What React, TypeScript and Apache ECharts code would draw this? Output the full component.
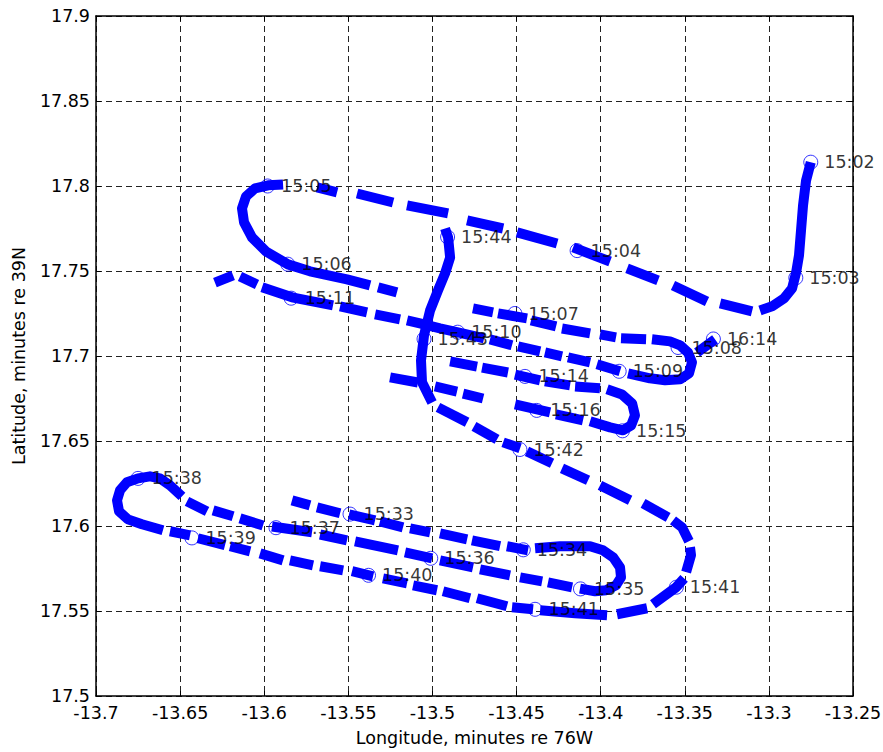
import React, { useEffect, useRef } from "react";
import * as echarts from "echarts";

type Pt = [number, number];

// Ship track, drawn as dashes (gaps in the data), longitude / latitude in minutes
const leg1: Pt[][] = [
  [[-13.2751, 17.814], [-13.2779, 17.8033], [-13.2797, 17.7886], [-13.2809, 17.7739], [-13.2821, 17.7592], [-13.2838, 17.7492], [-13.2862, 17.7398], [-13.291, 17.7339], [-13.2981, 17.7292], [-13.3053, 17.7268]],
  [[-13.31, 17.7262], [-13.329, 17.7309]],
  [[-13.3368, 17.7321], [-13.357, 17.7415]],
  [[-13.3659, 17.7445], [-13.3843, 17.7515]],
  [[-13.3944, 17.7556], [-13.4164, 17.7639]],
  [[-13.4259, 17.7662], [-13.4497, 17.7727]],
  [[-13.458, 17.775], [-13.4794, 17.7798]],
  [[-13.4907, 17.7839], [-13.5151, 17.7886]],
  [[-13.5234, 17.7903], [-13.5448, 17.7956]],
  [[-13.5567, 17.7962], [-13.5686, 17.7992]],
  [[-13.5888, 17.8009], [-13.5977, 17.8004], [-13.6055, 17.7986], [-13.6108, 17.7939], [-13.6132, 17.7868], [-13.612, 17.7786], [-13.6073, 17.7698], [-13.5989, 17.7615], [-13.5859, 17.7539], [-13.5728, 17.7498], [-13.5508, 17.7451], [-13.5371, 17.7415]],
  [[-13.5323, 17.7404], [-13.5211, 17.7374]],
];

const leg2: Pt[][] = [
  [[-13.4759, 17.728], [-13.464, 17.7257]],
  [[-13.461, 17.7251], [-13.4438, 17.7221]],
  [[-13.4414, 17.721], [-13.4265, 17.7174]],
  [[-13.423, 17.7162], [-13.4063, 17.7133]],
  [[-13.4004, 17.7127], [-13.3909, 17.711]],
  [[-13.3879, 17.7104], [-13.373, 17.7098]],
  [[-13.3695, 17.7098], [-13.3588, 17.7086], [-13.3528, 17.7063], [-13.3481, 17.7021], [-13.3457, 17.6963], [-13.3475, 17.6898], [-13.3528, 17.6863], [-13.3617, 17.6857], [-13.3707, 17.6869], [-13.3837, 17.6898]],
  [[-13.3885, 17.691], [-13.4022, 17.6951]],
  [[-13.4063, 17.6963], [-13.4194, 17.6992]],
  [[-13.423, 17.6998], [-13.4331, 17.7021]],
  [[-13.436, 17.7027], [-13.4491, 17.7057]],
  [[-13.4527, 17.7063], [-13.4658, 17.7098]],
  [[-13.4693, 17.7104], [-13.4848, 17.7139], [-13.4955, 17.7162], [-13.5074, 17.7192], [-13.5151, 17.721]],
  [[-13.5193, 17.7215], [-13.5341, 17.7245]],
  [[-13.5389, 17.7257], [-13.5549, 17.7292]],
  [[-13.5591, 17.7298], [-13.5835, 17.7345], [-13.6013, 17.7404]],
  [[-13.6043, 17.7421], [-13.6144, 17.7468]],
  [[-13.6185, 17.7474], [-13.6293, 17.7432]],
];

const leg3: Pt[][] = [
  [[-13.4895, 17.6968], [-13.4735, 17.6938]],
  [[-13.4705, 17.6932], [-13.4551, 17.6903]],
  [[-13.4509, 17.6891], [-13.436, 17.6856]],
  [[-13.4331, 17.6851], [-13.4182, 17.6827]],
  [[-13.4152, 17.6821], [-13.4004, 17.681]],
  [[-13.3962, 17.6804], [-13.3873, 17.6774], [-13.3813, 17.6721], [-13.3796, 17.6651], [-13.3819, 17.6592], [-13.3867, 17.6563], [-13.3944, 17.658], [-13.4063, 17.6616]],
  [[-13.4105, 17.6622], [-13.4265, 17.6657]],
  [[-13.4301, 17.6668], [-13.4509, 17.6715]],
  [[-13.4699, 17.675], [-13.4818, 17.6779]],
  [[-13.4854, 17.6791], [-13.4985, 17.6821]],
  [[-13.5086, 17.6844], [-13.5252, 17.6874]],
];

const leg4: Pt[][] = [
  [[-13.5835, 17.6151], [-13.5728, 17.6121]],
  [[-13.5686, 17.611], [-13.5549, 17.6075]],
  [[-13.5496, 17.6069], [-13.5341, 17.6033]],
  [[-13.5312, 17.6027], [-13.5175, 17.5992]],
  [[-13.5133, 17.5986], [-13.5014, 17.5963]],
  [[-13.4955, 17.5957], [-13.4794, 17.5922]],
  [[-13.4765, 17.5916], [-13.4598, 17.5881]],
  [[-13.4557, 17.5881], [-13.4432, 17.5857]],
  [[-13.439, 17.5869], [-13.4242, 17.5881], [-13.4063, 17.5881], [-13.3986, 17.5857], [-13.3926, 17.5816], [-13.3885, 17.5757], [-13.3879, 17.5698], [-13.3909, 17.5651], [-13.3968, 17.5622], [-13.4033, 17.5616], [-13.4123, 17.5632]],
  [[-13.417, 17.5639], [-13.4313, 17.5668]],
  [[-13.4348, 17.5674], [-13.4479, 17.5698]],
  [[-13.4539, 17.5709], [-13.4717, 17.5745]],
  [[-13.4759, 17.5757], [-13.4955, 17.5798]],
  [[-13.5002, 17.581], [-13.5163, 17.5845]],
  [[-13.5205, 17.5857], [-13.546, 17.591]],
  [[-13.5508, 17.5916], [-13.5668, 17.595]],
  [[-13.5716, 17.5963], [-13.5954, 17.5997]],
  [[-13.6007, 17.6003], [-13.6144, 17.6045]],
  [[-13.6185, 17.6057], [-13.6304, 17.6092]],
  [[-13.634, 17.6086], [-13.6459, 17.6145]],
  [[-13.6489, 17.6174], [-13.656, 17.6239], [-13.662, 17.628], [-13.6679, 17.6292], [-13.675, 17.628], [-13.6816, 17.6257], [-13.6857, 17.621], [-13.6875, 17.6151], [-13.6863, 17.6086], [-13.681, 17.6039], [-13.6727, 17.601], [-13.6602, 17.5975]],
  [[-13.656, 17.5969], [-13.6441, 17.5945]],
  [[-13.6394, 17.5928], [-13.6233, 17.5887]],
  [[-13.6203, 17.5881], [-13.6084, 17.5851]],
  [[-13.6025, 17.5839], [-13.5888, 17.5798]],
  [[-13.5847, 17.5798], [-13.571, 17.5769]],
  [[-13.5668, 17.5763], [-13.5531, 17.5739]],
  [[-13.5478, 17.5734], [-13.5353, 17.5704]],
  [[-13.5294, 17.5692], [-13.5151, 17.5663]],
  [[-13.5115, 17.5651], [-13.4973, 17.5622]],
  [[-13.4937, 17.5616], [-13.4777, 17.5575]],
  [[-13.4735, 17.5575], [-13.4557, 17.5528]],
  [[-13.4527, 17.5522], [-13.4402, 17.551]],
  [[-13.436, 17.5504], [-13.4152, 17.5487], [-13.3962, 17.5475]],
  [[-13.3903, 17.5481], [-13.3724, 17.5516]],
  [[-13.3689, 17.554], [-13.3552, 17.5639], [-13.3504, 17.5692]],
  [[-13.3492, 17.5728], [-13.3463, 17.5828], [-13.3469, 17.5875]],
  [[-13.3475, 17.591], [-13.3516, 17.5992], [-13.357, 17.6033]],
  [[-13.3599, 17.6051], [-13.3748, 17.6133]],
  [[-13.3825, 17.6151], [-13.4004, 17.6239]],
  [[-13.4075, 17.6269], [-13.423, 17.6339]],
  [[-13.4289, 17.6369], [-13.4438, 17.6439]],
  [[-13.4479, 17.6457], [-13.458, 17.6492]],
  [[-13.4616, 17.651], [-13.4753, 17.6586]],
  [[-13.4794, 17.661], [-13.4967, 17.6698]],
  [[-13.5002, 17.6727], [-13.5062, 17.6845], [-13.5068, 17.6974], [-13.505, 17.7121], [-13.5014, 17.7268], [-13.4967, 17.7386], [-13.4925, 17.7486], [-13.4895, 17.758], [-13.4907, 17.7698], [-13.4925, 17.775]],
];

const leg5: Pt[][] = [
  [[-13.3427, 17.7021], [-13.332, 17.7098]],
];

// Time markers
const markerTimes = ["15:02", "15:03", "15:04", "15:05", "15:06", "15:07", "15:08", "15:09", "15:10", "15:11", "15:14", "15:15", "15:16", "15:33", "15:34", "15:35", "15:36", "15:37", "15:38", "15:39", "15:40", "15:41", "15:41", "15:42", "15:43", "15:44", "16:14"];
const markerLon = [-13.2751, -13.284, -13.414, -13.598, -13.586, -13.451, -13.354, -13.389, -13.485, -13.584, -13.445, -13.387, -13.438, -13.549, -13.446, -13.412, -13.501, -13.593, -13.675, -13.643, -13.538, -13.439, -13.355, -13.448, -13.505, -13.491, -13.333];
const markerLat = [17.814, 17.746, 17.762, 17.8, 17.754, 17.725, 17.705, 17.691, 17.714, 17.734, 17.688, 17.656, 17.668, 17.607, 17.586, 17.563, 17.581, 17.599, 17.628, 17.593, 17.571, 17.551, 17.564, 17.645, 17.71, 17.77, 17.71];

const xMin = -13.7, xMax = -13.25, xStep = 0.05;
const yMin = 17.5, yMax = 17.9, yStep = 0.05;

const FONT = "DejaVu Sans";
const FS = 17.5;
const BLUE = "#0000ff";

const fmt = (v: number) => String(parseFloat(v.toFixed(2)));

export default function App() {
  const ref = useRef<HTMLDivElement>(null);
  useEffect(() => {
    document.body.style.margin = "0";
    if (!ref.current) return;
    const chart = echarts.init(ref.current, undefined, { renderer: "svg" });

    const trackSeries = [leg1, leg2, leg3, leg4, leg5].flat().map((dash) => ({
      type: "line",
      data: dash,
      xAxisIndex: 0,
      yAxisIndex: 0,
      symbol: "none",
      silent: true,
      z: 2,
      lineStyle: { color: BLUE, width: 10, cap: "butt", join: "round" },
    }));

    const markerSeries = {
      type: "scatter",
      xAxisIndex: 0,
      yAxisIndex: 0,
      z: 3,
      symbol: "circle",
      symbolSize: 14,
      silent: true,
      itemStyle: { color: "transparent", borderColor: BLUE, borderWidth: 1 },
      label: {
        show: true,
        position: "right",
        distance: 6,
        formatter: "{b}",
        color: "#000",
        fontSize: FS,
        fontFamily: FONT,
      },
      data: markerTimes.map((t, i) => ({ name: t, value: [markerLon[i], markerLat[i]] })),
    };

    const boxAxis = {
      axisLine: { show: true, lineStyle: { color: "#000", width: 1.5 } },
      axisTick: { show: true, inside: true, length: 5, lineStyle: { color: "#000" } },
      splitLine: { show: false },
      axisLabel: { show: false },
    };

    chart.setOption({
      animation: false,
      textStyle: { fontFamily: FONT },
      grid: { left: 96, top: 16, right: 30, bottom: 56, containLabel: false, outerBoundsMode: "none" },
      xAxis: [
        {
          type: "value",
          position: "bottom",
          min: xMin,
          max: xMax,
          interval: xStep,
          name: "Longitude, minutes re 76W",
          nameLocation: "middle",
          nameGap: 33,
          nameTextStyle: { color: "#000", fontSize: FS, fontFamily: FONT },
          axisLine: { show: true, lineStyle: { color: "#000", width: 1.5 } },
          axisTick: { show: true, inside: true, length: 5, lineStyle: { color: "#000" } },
          axisLabel: { show: true, color: "#000", fontSize: FS, fontFamily: FONT, margin: 8, formatter: fmt, showMinLabel: true, showMaxLabel: true },
          splitLine: { show: true, lineStyle: { color: "#222", width: 1, type: [6, 4] } },
        },
        { type: "value", position: "top", min: xMin, max: xMax, interval: xStep, ...boxAxis },
      ],
      yAxis: [
        {
          type: "value",
          position: "left",
          min: yMin,
          max: yMax,
          interval: yStep,
          name: "Latitude, minutes re 39N",
          nameLocation: "middle",
          nameGap: 68,
          nameTextStyle: { color: "#000", fontSize: FS, fontFamily: FONT },
          axisLine: { show: true, lineStyle: { color: "#000", width: 1.5 } },
          axisTick: { show: true, inside: true, length: 5, lineStyle: { color: "#000" } },
          axisLabel: { show: true, color: "#000", fontSize: FS, fontFamily: FONT, margin: 6, formatter: fmt, showMinLabel: true, showMaxLabel: true },
          splitLine: { show: true, lineStyle: { color: "#222", width: 1, type: [6, 4] } },
        },
        { type: "value", position: "right", min: yMin, max: yMax, interval: yStep, ...boxAxis },
      ],
      series: [...trackSeries, markerSeries],
    });

    return () => chart.dispose();
  }, []);

  return <div ref={ref} style={{ width: 883, height: 752 }} />;
}
